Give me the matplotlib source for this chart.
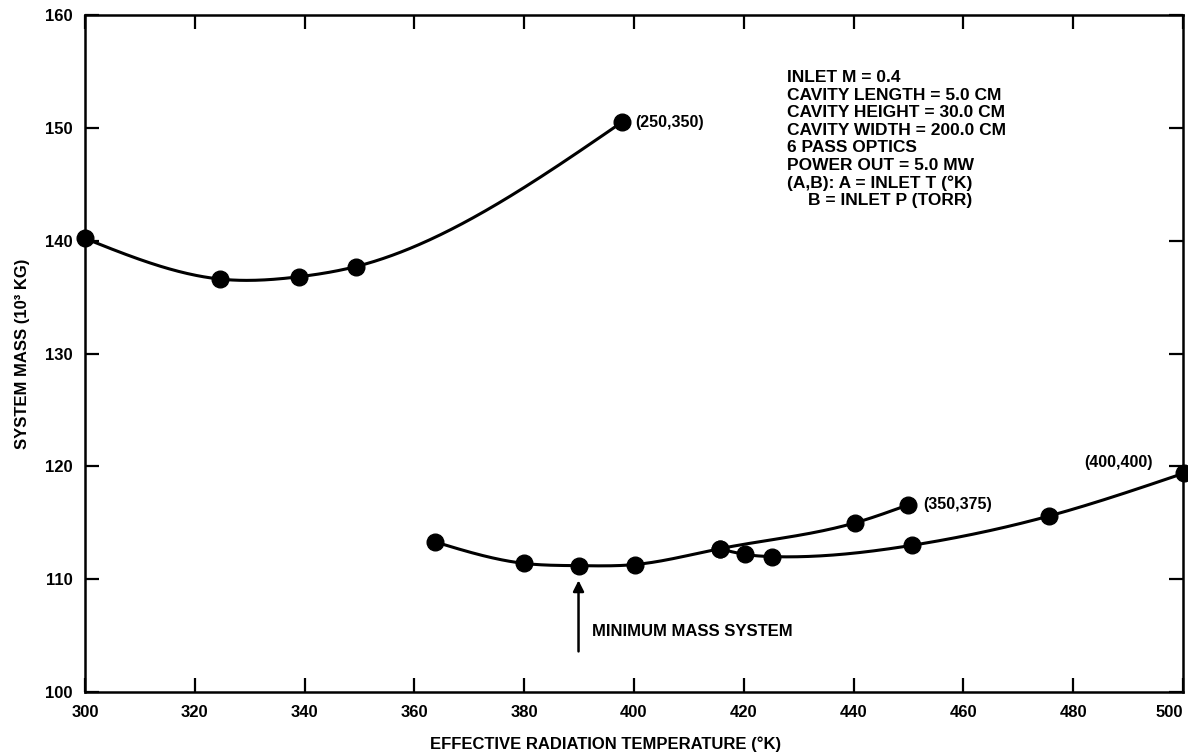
import numpy as np
import matplotlib
matplotlib.use("Agg")
import matplotlib.pyplot as plt

# values (temperature in K, mass in 10^3 kg)
upper_temp = [300.0, 324.6, 338.9, 349.3, 397.8]
upper_mass = [140.2, 136.6, 136.8, 137.7, 150.5]

low_temp = [363.8, 380.0, 389.9, 400.2, 415.6, 440.3, 450.0]
low_mass = [113.3, 111.4, 111.2, 111.3, 112.7, 115.0, 116.6]

branch_temp = [415.6, 420.2, 425.2, 450.6, 475.6, 500.2]
branch_mass = [112.7, 112.2, 112.0, 113.0, 115.6, 119.4]

end_labels = ["(250,350)", "(350,375)", "(400,400)"]

notes = [
    "INLET M = 0.4",
    "CAVITY LENGTH = 5.0 CM",
    "CAVITY HEIGHT = 30.0 CM",
    "CAVITY WIDTH = 200.0 CM",
    "6 PASS OPTICS",
    "POWER OUT = 5.0 MW",
    "(A,B): A = INLET T (°K)",
    "B = INLET P (TORR)",
]

x_ticks = list(range(300, 501, 20))
y_ticks = list(range(100, 161, 10))


def smooth(x, y, n=300):
    # natural cubic spline, just to draw the faired curve through the dots
    x = np.asarray(x, float)
    y = np.asarray(y, float)
    k = len(x)
    h = np.diff(x)
    a = np.zeros((k, k))
    r = np.zeros(k)
    a[0, 0] = a[-1, -1] = 1.0
    for i in range(1, k - 1):
        a[i, i - 1] = h[i - 1]
        a[i, i] = 2 * (h[i - 1] + h[i])
        a[i, i + 1] = h[i]
        r[i] = 6 * ((y[i + 1] - y[i]) / h[i] - (y[i] - y[i - 1]) / h[i - 1])
    m = np.linalg.solve(a, r)
    xs = np.linspace(x[0], x[-1], n)
    j = np.clip(np.searchsorted(x, xs) - 1, 0, k - 2)
    x0, x1, hj = x[j], x[j + 1], h[j]
    ys = (m[j] * (x1 - xs) ** 3 / (6 * hj) + m[j + 1] * (xs - x0) ** 3 / (6 * hj)
          + (y[j] / hj - m[j] * hj / 6) * (x1 - xs)
          + (y[j + 1] / hj - m[j + 1] * hj / 6) * (xs - x0))
    return xs, ys


plt.rcParams["font.family"] = ["Liberation Sans", "DejaVu Sans"]
plt.rcParams["font.weight"] = "bold"
plt.rcParams["axes.labelweight"] = "bold"

fig = plt.figure(figsize=(11.88, 7.55), dpi=100)
ax = fig.add_axes([0.0715, 0.0834, 0.9243, 0.8967])

for tx, my in [(upper_temp, upper_mass), (low_temp, low_mass), (branch_temp, branch_mass)]:
    xs, ys = smooth(tx, my)
    ax.plot(xs, ys, color="black", lw=2.2, solid_capstyle="round")
    ax.plot(tx, my, "o", color="black", ms=12, clip_on=False, zorder=3)

ax.text(upper_temp[-1] + 2.4, upper_mass[-1], end_labels[0], fontsize=11.5,
        ha="left", va="center")
ax.text(low_temp[-1] + 2.7, low_mass[-1], end_labels[1], fontsize=11.5,
        ha="left", va="center")
ax.text(494.5, 120.3, end_labels[2], fontsize=11.5, ha="right", va="center")

ax.annotate("", xy=(389.9, 109.9), xytext=(389.9, 103.6),
            arrowprops=dict(arrowstyle="-|>", color="black", lw=1.8,
                            mutation_scale=16, shrinkA=0, shrinkB=0))
ax.text(392.3, 105.4, "MINIMUM MASS SYSTEM", fontsize=12, ha="left", va="center")

for i, line in enumerate(notes):
    dx = 15 if line.startswith("B =") else 0
    ax.annotate(line, xy=(427.9, 155.1), xytext=(dx, -i * 12.6),
                textcoords="offset points", fontsize=12.5, ha="left", va="top")

ax.set_xlim(300, 500)
ax.set_ylim(100, 160)
ax.set_xticks(x_ticks)
ax.set_yticks(y_ticks)
ax.tick_params(direction="in", length=10, width=1.6, labelsize=12,
               top=True, right=True, pad=9)
# keep the last x label inside the figure
ax.get_xticklabels()[-1].set_horizontalalignment("right")
for s in ax.spines.values():
    s.set_linewidth(1.8)

ax.set_xlabel("EFFECTIVE RADIATION TEMPERATURE (°K)", fontsize=12)
ax.set_ylabel("SYSTEM MASS (10³ KG)", fontsize=12)
ax.xaxis.set_label_coords(0.4745, -0.066)
ax.yaxis.set_label_coords(-0.05, 0.5)

fig.savefig("out.png", dpi=100)
